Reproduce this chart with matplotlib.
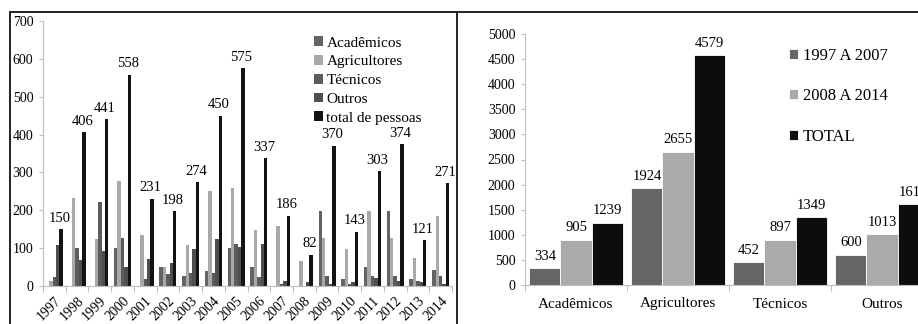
import matplotlib
matplotlib.use("Agg")
import matplotlib.pyplot as plt
from matplotlib.lines import Line2D
import numpy as np

plt.rcParams['font.family'] = ['Liberation Serif', 'DejaVu Serif']

# Participants per year, by group
anos = ['1997', '1998', '1999', '2000', '2001', '2002', '2003', '2004', '2005',
        '2006', '2007', '2008', '2009', '2010', '2011', '2012', '2013', '2014']
academicos   = [0, 0, 0, 100, 0, 49, 27, 39, 100, 50, 0, 0, 198, 19, 50, 198, 19, 42]
agricultores = [14, 233, 124, 277, 135, 49, 107, 250, 258, 149, 159, 67, 128, 98, 198, 128, 73, 184]
tecnicos     = [23, 100, 223, 127, 19, 32, 35, 35, 111, 23, 5, 0, 27, 5, 27, 27, 14, 27]
outros       = [107, 70, 92, 50, 71, 61, 97, 123, 102, 111, 14, 10, 5, 10, 21, 12, 10, 5]
total_pessoas = [150, 406, 441, 558, 231, 198, 274, 450, 575, 337, 186, 82, 370, 143, 303, 374, 121, 271]

# Totals per group and period
grupos = ['Acadêmicos', 'Agricultores', 'Técnicos', 'Outros']
periodo_1997_2007 = [334, 1924, 452, 600]
periodo_2008_2014 = [905, 2655, 897, 1013]
periodo_total = [1239, 4579, 1349, 1613]

W, H = 918, 324
fig = plt.figure(figsize=(W / 100, H / 100), dpi=100)
fig.patch.set_facecolor('white')

axis_gray = '#bfbfbf'
c_acad, c_agri, c_tec, c_out, c_tot = '#636363', '#a9a9a9', '#5c5c5c', '#4e4e4e', '#16120f'


def style_axes(ax):
    for s in ('top', 'right'):
        ax.spines[s].set_visible(False)
    for s in ('left', 'bottom'):
        ax.spines[s].set_color(axis_gray)
        ax.spines[s].set_linewidth(0.8)
    ax.tick_params(axis='y', which='major', length=3, width=0.8, color=axis_gray,
                   pad=4, labelsize=10)
    ax.tick_params(axis='x', which='major', length=0)
    ax.tick_params(axis='x', which='minor', length=4, width=0.8, color=axis_gray)


# ---- Left: yearly participants ----
ax1 = fig.add_axes([43 / W, 1 - 286 / H, 409 / W, 265 / H])
x = np.arange(len(anos))
bw = 0.15
series = [(academicos, c_acad, 'Acadêmicos'),
          (agricultores, c_agri, 'Agricultores'),
          (tecnicos, c_tec, 'Técnicos'),
          (outros, c_out, 'Outros'),
          (total_pessoas, c_tot, 'total de pessoas')]
for i, (vals, col, lab) in enumerate(series):
    ax1.bar(x + (i - 2) * bw, vals, bw, color=col, label=lab, linewidth=0)
for xi, v in zip(x, total_pessoas):
    ax1.text(xi + 1.5 * bw, v + 12, str(v), ha='center', va='bottom', fontsize=10.5)
ax1.set_xlim(-0.5, len(anos) - 0.5)
ax1.set_ylim(0, 700)
ax1.set_yticks(range(0, 701, 100))
ax1.set_xticks(x)
ax1.set_xticklabels(anos, rotation=45, ha='right', va='top', rotation_mode='anchor')
ax1.set_xticks(np.arange(-0.5, len(anos), 1), minor=True)
style_axes(ax1)
ax1.tick_params(axis='x', which='major', pad=6, labelsize=10)
ax1.legend(loc='upper left', bbox_to_anchor=(0.648, 0.965), frameon=False,
           fontsize=11, handlelength=0.6, handleheight=0.6, handletextpad=0.2,
           labelspacing=0.36, borderaxespad=0)

# ---- Right: totals by group and period ----
ax2 = fig.add_axes([525 / W, 1 - 285 / H, 408 / W, 251 / H])
xg = np.arange(len(grupos))
bw2 = 0.305
periodos = [(periodo_1997_2007, '#666666', '1997 A 2007'),
            (periodo_2008_2014, '#aaaaaa', '2008 A 2014'),
            (periodo_total, '#0d0d0d', 'TOTAL')]
for i, (vals, col, lab) in enumerate(periodos):
    pos = xg + (i - 1) * bw2
    ax2.bar(pos, vals, bw2, color=col, label=lab, edgecolor='white', linewidth=0.6)
    for p, v in zip(pos, vals):
        ax2.text(p, v + 110, str(v), ha='center', va='bottom', fontsize=10.5)
ax2.set_xlim(-0.5, len(grupos) - 0.5)
ax2.set_ylim(0, 5000)
ax2.set_yticks(range(0, 5001, 500))
ax2.set_xticks(xg)
ax2.set_xticklabels(grupos)
ax2.set_xticks(np.arange(-0.5, len(grupos), 1), minor=True)
style_axes(ax2)
ax2.tick_params(axis='x', which='major', pad=9, labelsize=11)
ax2.legend(loc='upper left', bbox_to_anchor=(0.63, 0.972), frameon=False,
           fontsize=12, handlelength=0.55, handleheight=0.55, handletextpad=0.3,
           labelspacing=1.48, borderaxespad=0)

# ---- Panel frames ----
frame_kw = dict(color='#222222', linewidth=1.4, transform=fig.transFigure)
top = 1 - 12 / H
fig.add_artist(Line2D([10 / W, 1.0], [top, top], **frame_kw))
fig.add_artist(Line2D([10 / W, 10 / W], [0, top], **frame_kw))
fig.add_artist(Line2D([457 / W, 457 / W], [0, top], **frame_kw))

fig.savefig('out.png', dpi=100)
